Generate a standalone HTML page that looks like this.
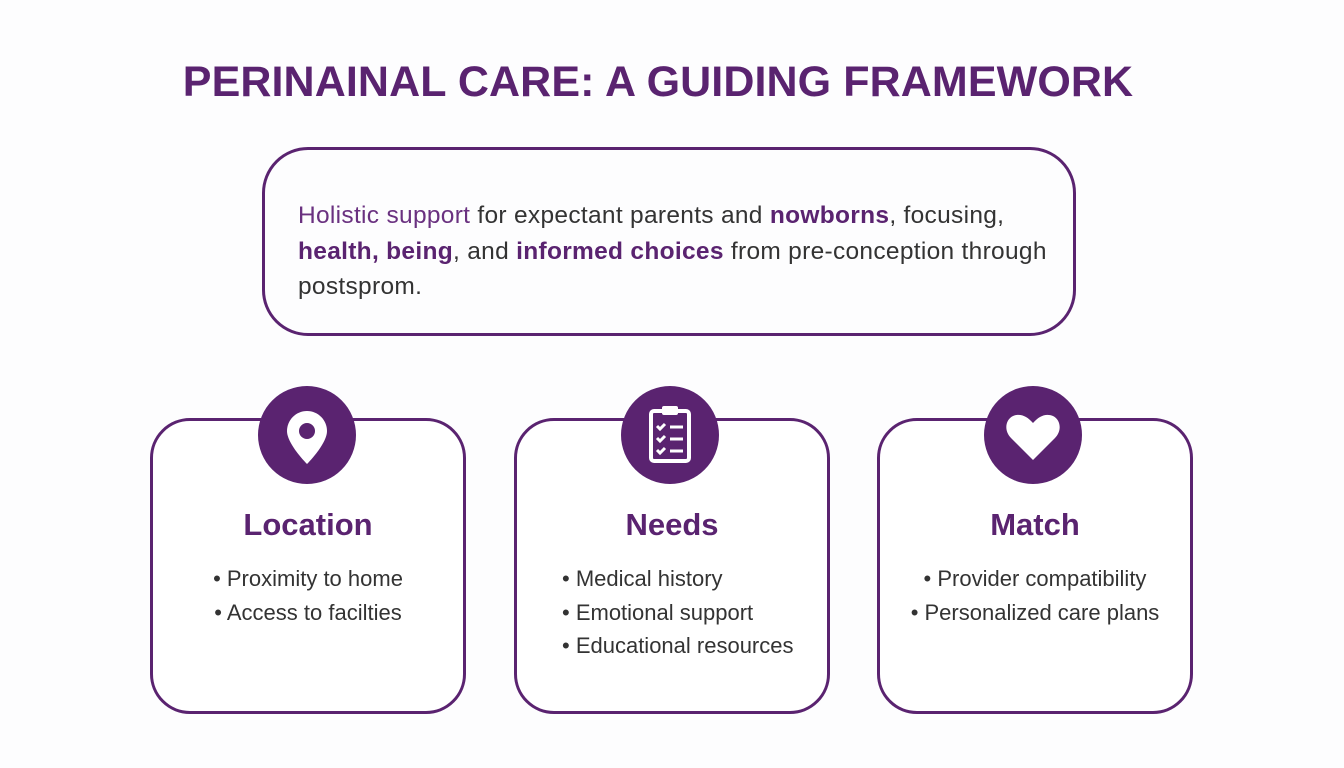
<!DOCTYPE html>
<html><head><meta charset="utf-8"><style>
body{margin:0;width:1344px;height:768px;background:#fdfdfe;font-family:"Liberation Sans",sans-serif;position:relative;overflow:hidden}
.t{position:absolute;left:0;width:1316px;text-align:center;top:58px;font-size:43px;font-weight:bold;color:#5a2370;letter-spacing:0.1px}
.top{position:absolute;left:262px;top:147px;width:808px;height:183px;border:3px solid #5a2370;border-radius:46px}
.top p{margin:0;position:absolute;left:33px;top:48px;font-size:24.5px;line-height:35.5px;color:#333;white-space:nowrap;letter-spacing:0.3px}
.p{color:#6a3180}.b{color:#5a2370;font-weight:bold}
.c{position:absolute;top:418px;width:316px;height:296px;border:3px solid #5a2370;border-radius:40px;box-sizing:border-box;background:#fff}
.ci{position:absolute;width:98px;height:98px;border-radius:50%;background:#5a2370;top:386px}
.h{position:absolute;top:86px;width:100%;text-align:center;font-size:31px;font-weight:bold;color:#5a2370;left:0}
.c ul{list-style:none;margin:0;padding:0;position:absolute;top:141px;width:100%;text-align:center;font-size:22px;line-height:33.5px;color:#333}
</style></head><body>
<div class="t">PERINAINAL CARE: A GUIDING FRAMEWORK</div>
<div class="top"><p><span class="p">Holistic support</span> for expectant parents and <span class="b">nowborns</span>, focusing,<br><span class="b">health, being</span>, and <span class="b">informed choices</span> from pre-conception through<br>postsprom.</p></div>

<div class="c" style="left:150px"><div class="h">Location</div><ul><li>• Proximity to home</li><li>• Access to facilties</li></ul></div>
<div class="c" style="left:514px"><div class="h">Needs</div><ul style="text-align:left;left:45px"><li>• Medical history</li><li>• Emotional support</li><li>• Educational resources</li></ul></div>
<div class="c" style="left:877px"><div class="h">Match</div><ul><li>• Provider compatibility</li><li>• Personalized care plans</li></ul></div>

<div class="ci" style="left:258px"><svg width="98" height="98" viewBox="0 0 98 98"><path d="M49 25c-11 0-20 9-20 20 0 13 20 33 20 33s20-20 20-33c0-11-9-20-20-20z" fill="#fff"/><circle cx="49" cy="45" r="8" fill="#5a2370"/></svg></div>
<div class="ci" style="left:621px"><svg width="98" height="98" viewBox="0 0 98 98"><rect x="30" y="25" width="38" height="50" rx="3" fill="none" stroke="#fff" stroke-width="4"/><rect x="41" y="20" width="16" height="9" rx="2" fill="#fff"/><g stroke="#fff" stroke-width="3" fill="none"><path d="M36 40l3 3 5-5M36 52l3 3 5-5M36 64l3 3 5-5"/><path d="M49 41h13M49 53h13M49 65h13"/></g></svg></div>
<div class="ci" style="left:984px"><svg width="98" height="98" viewBox="0 0 98 98"><path d="M49 74L27 52c-7-7-6-18 2-22 7-3 14 0 20 7 6-7 13-10 20-7 8 4 9 15 2 22z" fill="#fff"/></svg></div>
</body></html>
